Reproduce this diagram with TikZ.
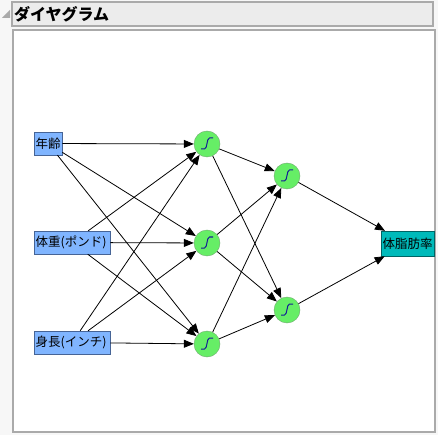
\documentclass[tikz,border=0pt]{standalone}
\usepackage{fontspec}
\newfontfamily\jpfont{Noto Sans CJK JP}
\usetikzlibrary{arrows.meta}
\definecolor{pagebg}{RGB}{247,247,247}
\definecolor{hdrfill}{RGB}{236,236,236}
\definecolor{frame}{RGB}{170,170,170}
\definecolor{inblue}{RGB}{128,181,255}
\definecolor{inedge}{RGB}{70,100,150}
\definecolor{hidgreen}{RGB}{102,238,102}
\definecolor{hidedge}{RGB}{110,170,110}
\definecolor{outteal}{RGB}{0,186,186}
\definecolor{outedge}{RGB}{0,100,100}
\definecolor{sigblue}{RGB}{20,30,150}
\begin{document}
\begin{tikzpicture}[x=1pt,y=-1pt,
  lbl/.style={font=\jpfont\fontsize{12.5}{14}\selectfont},
  inbox/.style={lbl,draw=inedge,fill=inblue,minimum height=23,inner xsep=1.5,inner ysep=0,align=left},
  outbox/.style={lbl,draw=outedge,fill=outteal,minimum height=25,inner xsep=1.5,inner ysep=0,align=left},
  hid/.style={circle,draw=hidedge,fill=hidgreen,minimum size=26,inner sep=0,
    path picture={\draw[sigblue,line width=1] ([shift={(-6,5)}]path picture bounding box.center)
      -- ++(3.5,0) .. controls +(3,0) and +(-3,0) .. ++(5,-11) -- ++(3.5,0);}},
  conn/.style={line width=0.8,-{Triangle[length=10,width=8]}}]
\fill[pagebg] (0,0) rectangle (438,435);
\fill[frame] (2,18) -- (10,18) -- (10,10) -- cycle;
\draw[frame,fill=hdrfill,line width=1.2] (12,2) rectangle (433,26);
\node[font=\jpfont\bfseries\fontsize{16}{18}\selectfont,anchor=west,inner sep=0] (title) at (14,14) {ダイヤグラム};
\draw[frame,fill=white,line width=1.5] (13,30) rectangle (435,432);
\node[inbox,text width=25,anchor=west] (age) at (34,143.5) {年齢};
\node[inbox,text width=73,anchor=west] (wt) at (34,242.5) {体重(ポンド)};
\node[inbox,text width=73,anchor=west] (ht) at (34,342.5) {身長(インチ)};
\node[outbox,text width=50,anchor=west] (out) at (381,243.5) {体脂肪率};
\foreach \n/\x/\y in {h11/207/144,h12/207/243,h13/207/344,h21/287/176,h22/287/310}
  \node[hid] (\n) at (\x,\y) {};
\foreach \i in {age,wt,ht}
  \foreach \j in {h11,h12,h13}
    \draw[conn] (\i) -- (\j);
\foreach \i in {h11,h12,h13}
  \foreach \j in {h21,h22}
    \draw[conn] (\i) -- (\j);
\foreach \i in {h21,h22}
  \draw[conn] (\i) -- (out);
\end{tikzpicture}
\end{document}
